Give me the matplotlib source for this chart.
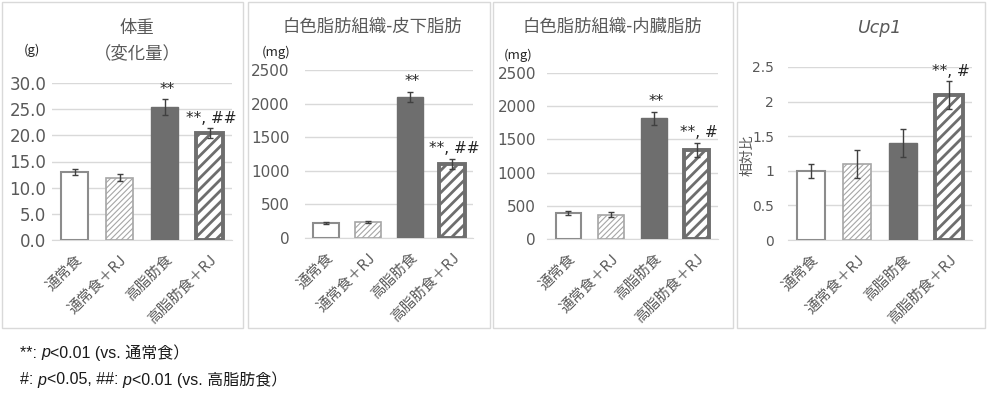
import matplotlib
matplotlib.use("Agg")
import matplotlib.pyplot as plt
from matplotlib.patches import Rectangle

plt.rcParams['font.family'] = ['Noto Sans CJK JP', 'DejaVu Sans']

groups = ["通常食", "通常食＋RJ", "高脂肪食", "高脂肪食＋RJ"]

weight = [13.0, 11.9, 25.4, 20.4]
weight_err = [0.6, 0.7, 1.5, 1.0]
weight_marks = ["", "", "**", "**, ##"]

subq = [230, 235, 2100, 1100]
subq_err = [15, 15, 80, 80]
subq_marks = ["", "", "**", "**, ##"]

visc = [385, 365, 1820, 1340]
visc_err = [30, 35, 100, 110]
visc_marks = ["", "", "**", "**, #"]

ucp1 = [1.0, 1.1, 1.4, 2.1]
ucp1_err = [0.1, 0.2, 0.2, 0.2]
ucp1_marks = ["", "", "", "**, #"]

note1 = [("**: ", "normal"), ("p", "italic"), ("<0.01 (vs. 通常食）", "normal")]
note2 = [("#: ", "normal"), ("p", "italic"), ("<0.05, ##: ", "normal"), ("p", "italic"),
         ("<0.01 (vs. 高脂肪食）", "normal")]

W, H = 990, 404
fig = plt.figure(figsize=(W / 100, H / 100), dpi=100)
gray = "#595959"
dark = "#6e6e6e"


def px_axes(x0, y0, x1, y1):
    # pixel box (top-left origin) -> figure axes
    return fig.add_axes([x0 / W, 1 - y1 / H, (x1 - x0) / W, (y1 - y0) / H])


def frame(x0, y0, x1, y1):
    fig.patches.append(Rectangle((x0 / W, 1 - y1 / H), (x1 - x0) / W, (y1 - y0) / H,
                                 transform=fig.transFigure, fill=False,
                                 edgecolor="#d9d9d9", linewidth=1.0))


def panel(ax, vals, errs, marks, ymax, step, fmt, tick_fs, mark_off, ypad):
    styles = [
        dict(color="white", edgecolor="#8c8c8c", linewidth=1.5, hatch=None),
        dict(color="white", edgecolor="#a6a6a6", linewidth=1.2, hatch="//////"),
        dict(color=dark, edgecolor=dark, linewidth=1.0, hatch=None),
        dict(color="white", edgecolor=dark, linewidth=2.8, hatch="///"),
    ]
    for i, (v, e) in enumerate(zip(vals, errs)):
        st = styles[i]
        b = ax.bar(i, v, width=0.6, color=st["color"], edgecolor=st["edgecolor"],
                   linewidth=st["linewidth"], hatch=st["hatch"], zorder=3)
        if i == 3:
            try:
                b[0].set_hatch_linewidth(2.0)
            except AttributeError:
                pass
        elif i == 1:
            try:
                b[0].set_hatch_linewidth(0.8)
            except AttributeError:
                pass
        ax.errorbar(i, v, yerr=e, fmt="none", ecolor="#404040", elinewidth=1.0,
                    capsize=2.5, capthick=1.0, zorder=4)
        if marks[i]:
            ax.text(i + 0.05, v + e + mark_off, marks[i], ha="center", va="bottom",
                    fontsize=11, color="#262626", family="DejaVu Sans", zorder=5)
    ax.set_xlim(-0.5, 3.5)
    ax.set_ylim(0, ymax)
    ticks = [k * step for k in range(int(round(ymax / step)) + 1)]
    ax.set_yticks(ticks)
    ax.set_yticklabels([fmt.format(t) for t in ticks], fontsize=tick_fs, color=gray,
                       family="DejaVu Sans")
    ax.set_xticks(range(4))
    ax.set_xticklabels(groups, rotation=45, ha="right", rotation_mode="anchor",
                       fontsize=10.5, color=gray)
    ax.yaxis.grid(True, color="#d9d9d9", linewidth=1.0, zorder=0)
    ax.set_axisbelow(True)
    for s in ["left", "right", "top"]:
        ax.spines[s].set_visible(False)
    ax.spines["bottom"].set_color("#d9d9d9")
    ax.tick_params(axis="x", length=0, pad=9)
    ax.tick_params(axis="y", length=0, pad=ypad)


# panel 1
frame(2, 2, 243, 328)
ax1 = px_axes(52, 83, 232, 240)
panel(ax1, weight, weight_err, weight_marks, 30, 5, "{:.1f}", 12, 0.4, 4)
fig.text(137 / W, 1 - 28 / H, "体重", ha="center", va="center", fontsize=12.5, color=gray)
fig.text(137 / W, 1 - 53 / H, "（変化量）", ha="center", va="center", fontsize=12.5, color=gray)
fig.text(32 / W, 1 - 50 / H, "(g)", ha="center", va="center", fontsize=9.5, color="#262626")

# panel 2
frame(248, 2, 490, 328)
ax2 = px_axes(305, 70, 473, 238)
panel(ax2, subq, subq_err, subq_marks, 2500, 500, "{:.0f}", 11, 40, 11)
fig.text(372 / W, 1 - 27 / H, "白色脂肪組織-皮下脂肪", ha="center", va="center",
         fontsize=12.5, color=gray)
fig.text(276 / W, 1 - 52 / H, "(mg)", ha="center", va="center", fontsize=9.5, color="#262626")

# panel 3
frame(493, 2, 733, 328)
ax3 = px_axes(547, 73, 718, 239)
panel(ax3, visc, visc_err, visc_marks, 2500, 500, "{:.0f}", 11, 40, 8)
fig.text(612 / W, 1 - 27 / H, "白色脂肪組織-内臓脂肪", ha="center", va="center",
         fontsize=12.5, color=gray)
fig.text(518 / W, 1 - 55 / H, "(mg)", ha="center", va="center", fontsize=9.5, color="#262626")

# panel 4
frame(737, 2, 985, 328)
ax4 = px_axes(788, 67, 972, 240)
panel(ax4, ucp1, ucp1_err, ucp1_marks, 2.5, 0.5, "{:g}", 10, 0.03, 10)
fig.text(880 / W, 1 - 28 / H, "Ucp1", ha="center", va="center", fontsize=12.5,
         color=gray, style="italic", family="DejaVu Sans")
fig.text(747 / W, 1 - 155 / H, "相対比", ha="center", va="center", fontsize=10,
         color=gray, rotation=90)

# footnotes, written piece by piece so the p can be italic
note_font = ['Liberation Sans', 'Noto Sans CJK JP']
renderer = fig.canvas.get_renderer()
for y, pieces in [(353, note1), (380, note2)]:
    x = 20
    for s, st in pieces:
        t = fig.text(x / W, 1 - y / H, s, ha="left", va="center", fontsize=11.5,
                     color="#1a1a1a", family=note_font, style=st)
        x += t.get_window_extent(renderer).width

fig.savefig("out.png", dpi=100)
